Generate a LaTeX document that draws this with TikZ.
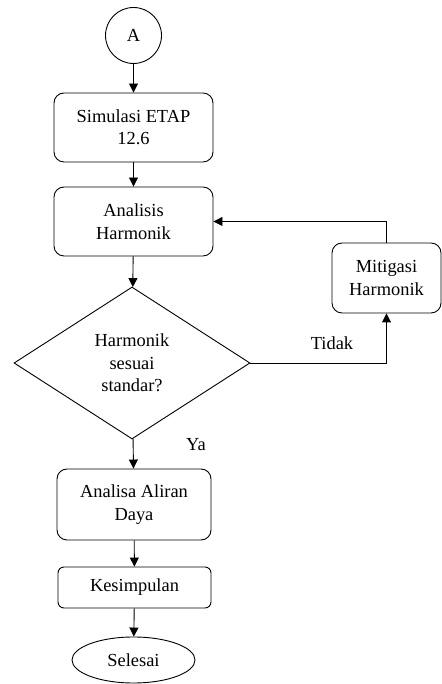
\documentclass[tikz,border=0pt]{standalone}
\usepackage{fontspec}
\setmainfont{Liberation Serif}
\usetikzlibrary{shapes.geometric, arrows.meta}

\begin{document}
\begin{tikzpicture}[x=1pt, y=1pt, line width=0.9pt,
		every node/.style={font=\fontsize{18.4}{22.5}\selectfont, align=center, inner sep=0pt},
		proses/.style={draw, rectangle, rounded corners=10pt, minimum width=159pt, minimum height=69pt},
		keputusan/.style={draw, diamond, aspect=1.55, minimum width=236pt, minimum height=152pt},
		panah/.style={-{Triangle[length=9pt, width=9pt]}}]
			
			\useasboundingbox (0, 0) rectangle (441, 684);
			
			\node[draw, circle, minimum size=56pt] (konektor) at (133.5, 648.5) {A};
			\node[proses] (simulasi) at (133.5, 556.5) {Simulasi ETAP\\12.6};
			\node[proses] (analisis) at (133.5, 462.5) {Analisis\\Harmonik};
			\node[keputusan] (cek) at (132, 321) {Harmonik\\sesuai\\standar?};
			\node[proses, minimum width=109pt, minimum height=70pt] (mitigasi) at (386.5, 406) {Mitigasi\\Harmonik};
			\node[proses, minimum width=154pt, minimum height=71pt] (aliran) at (134, 179.5) {Analisa Aliran\\Daya};
			\node[proses, rounded corners=6pt, minimum width=153pt, minimum height=41pt] (simpulan) at (134.5, 96.5) {Kesimpulan};
			\node[draw, ellipse, minimum width=123pt, minimum height=46pt] (selesai) at (133.5, 24) {Selesai};
			
			\node (tidak) at (332, 341) {Tidak};
			\node (ya) at (196, 239) {Ya};
			
			\draw[panah] (konektor) -- (simulasi);
			\draw[panah] (simulasi) -- (analisis);
			\draw[panah] (analisis) -- (cek);
			\draw[panah] (cek.east) -| (mitigasi.south);
			\draw[panah] (mitigasi.north) |- (analisis.east);
			\draw[panah] (cek) -- (aliran);
			\draw[panah] (aliran) -- (simpulan);
			\draw[panah] (simpulan) -- (selesai);
			
		\end{tikzpicture}
\end{document}
